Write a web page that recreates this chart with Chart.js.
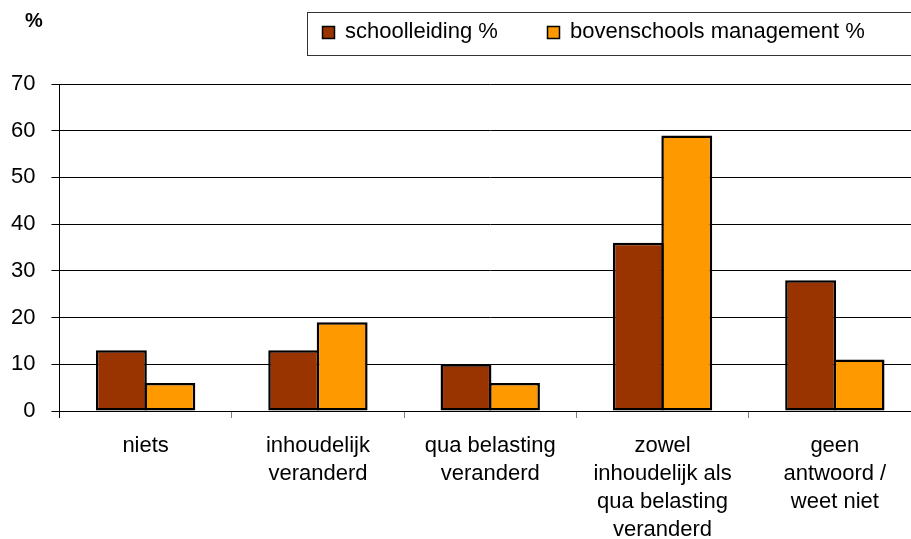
<!DOCTYPE html>
<html>
<head>
<meta charset="utf-8">
<title>schoolleiding / bovenschools management</title>
<script src="https://cdn.jsdelivr.net/npm/chart.js@4.4.1/dist/chart.umd.min.js"></script>
<style>
  html, body { margin: 0; padding: 0; background: #fff; overflow: hidden; }
  #wrap { position: absolute; left: 0; top: 0; width: 921px; height: 558px; }
</style>
</head>
<body>
<div id="wrap"><canvas id="changeChart"></canvas></div>
<script>
const categories = [
  'niets',
  ['inhoudelijk', 'veranderd'],
  ['qua belasting', 'veranderd'],
  ['zowel', 'inhoudelijk als', 'qua belasting', 'veranderd'],
  ['geen', 'antwoord /', 'weet niet']
];
const seriesNames = ['schoolleiding %', 'bovenschools management %'];
const schoolleiding = [13, 13, 10, 36, 28];
const bovenschools = [6, 19, 6, 59, 11];
const yTicks = [0, 10, 20, 30, 40, 50, 60, 70];

const fontFamily = 'Arial, "Liberation Sans", Helvetica, sans-serif';

// legend box in the top right corner plus the "%" unit above the y axis
const boxLegend = {
  id: 'boxLegend',
  afterDraw(chart) {
    const ctx = chart.ctx;
    ctx.save();
    ctx.font = 'bold 20px ' + fontFamily;
    ctx.fillStyle = '#000';
    ctx.textAlign = 'center';
    ctx.textBaseline = 'middle';
    ctx.fillText('%', 34, 21);

    ctx.strokeStyle = '#333';
    ctx.lineWidth = 1;
    ctx.strokeRect(307.5, 12.5, 640, 43);

    const itemX = [322.5, 547.5];
    ctx.font = '22px ' + fontFamily;
    ctx.textAlign = 'left';
    chart.data.datasets.forEach(function (ds, i) {
      ctx.fillStyle = ds.backgroundColor;
      ctx.fillRect(itemX[i], 26.5, 12, 12);
      ctx.lineWidth = 1.5;
      ctx.strokeStyle = '#000';
      ctx.strokeRect(itemX[i], 26.5, 12, 12);
      ctx.fillStyle = '#000';
      ctx.fillText(ds.label, itemX[i] + 22.5, 32);
    });
    ctx.restore();
  }
};

const ctx = document.getElementById('changeChart').getContext('2d');
const changeChart = new Chart(ctx, {
  type: 'bar',
  data: {
    labels: categories,
    datasets: [{
      label: seriesNames[0],
      data: schoolleiding,
      backgroundColor: '#993300',
      borderColor: '#000',
      borderWidth: 2.5,
      borderSkipped: false
    }, {
      label: seriesNames[1],
      data: bovenschools,
      backgroundColor: '#FF9900',
      borderColor: '#000',
      borderWidth: 2.5,
      borderSkipped: false
    }]
  },
  options: {
    responsive: true,
    maintainAspectRatio: false,
    animation: false,
    layout: { padding: { top: 84, left: -5, right: 0, bottom: 0 } },
    datasets: {
      bar: { categoryPercentage: 0.5626, barPercentage: 1.05 }
    },
    plugins: {
      legend: { display: false },
      tooltip: { enabled: false }
    },
    scales: {
      x: {
        grid: {
          offset: true,
          drawOnChartArea: false,
          drawTicks: true,
          tickLength: 7,
          color: function (c) { return c.index === 0 ? '#000' : '#808080'; }
        },
        border: { color: '#000', width: 1 },
        ticks: {
          color: '#000',
          padding: 14,
          maxRotation: 0,
          autoSkip: false,
          font: { family: fontFamily, size: 22, lineHeight: '28px' }
        }
      },
      y: {
        min: 0,
        max: 70,
        afterBuildTicks: function (axis) {
          axis.ticks = yTicks.map(function (v) { return { value: v }; });
        },
        grid: {
          color: '#000',
          lineWidth: 1,
          tickLength: 8,
          tickColor: '#000'
        },
        border: { color: '#000', width: 1 },
        ticks: {
          color: '#000',
          padding: 16,
          font: { family: fontFamily, size: 22 }
        }
      }
    }
  },
  plugins: [boxLegend]
});
</script>
</body>
</html>
